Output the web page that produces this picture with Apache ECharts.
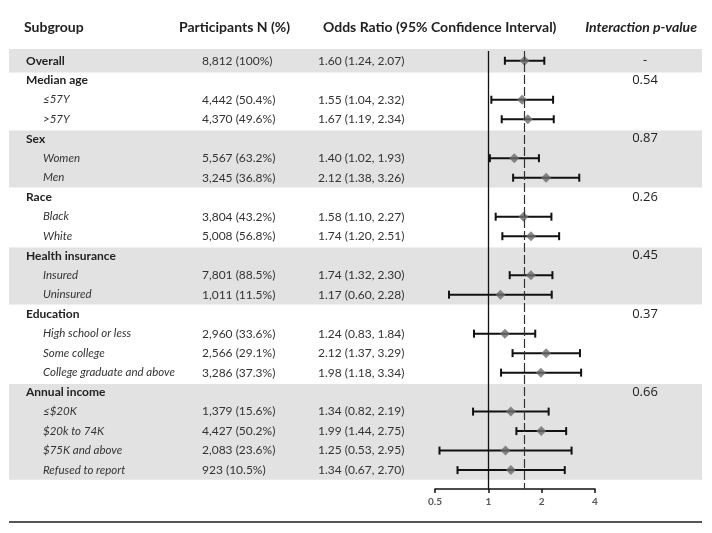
<!DOCTYPE html>
<html>
<head>
<meta charset="utf-8">
<script src="https://cdn.jsdelivr.net/npm/echarts@6/dist/echarts.min.js"></script>
<style>html,body{margin:0;padding:0;background:#fff;}#c{width:712px;height:533px;}</style>
</head>
<body>
<div id="c"></div>
<script>
// ---------------- data ----------------
const subgroups = ['Overall','Median age','≤57Y','>57Y','Sex','Women','Men','Race','Black','White',
  'Health insurance','Insured','Uninsured','Education','High school or less','Some college',
  'College graduate and above','Annual income','≤$20K','$20k to 74K','$75K and above','Refused to report'];
const isHeader = [1,1,0,0,1,0,0,1,0,0,1,0,0,1,0,0,0,1,0,0,0,0];
const participants = ['8,812 (100%)','','4,442 (50.4%)','4,370 (49.6%)','','5,567 (63.2%)','3,245 (36.8%)','',
  '3,804 (43.2%)','5,008 (56.8%)','','7,801 (88.5%)','1,011 (11.5%)','','2,960 (33.6%)','2,566 (29.1%)',
  '3,286 (37.3%)','','1,379 (15.6%)','4,427 (50.2%)','2,083 (23.6%)','923 (10.5%)'];
const oddsRatio = [1.60,null,1.55,1.67,null,1.40,2.12,null,1.58,1.74,null,1.74,1.17,null,1.24,2.12,1.98,null,1.34,1.99,1.25,1.34];
const ciLow     = [1.24,null,1.04,1.19,null,1.02,1.38,null,1.10,1.20,null,1.32,0.60,null,0.83,1.37,1.18,null,0.82,1.44,0.53,0.67];
const ciHigh    = [2.07,null,2.32,2.34,null,1.93,3.26,null,2.27,2.51,null,2.30,2.28,null,1.84,3.29,3.34,null,2.19,2.75,2.95,2.70];
const pValues   = ['-','0.54','','','0.87','','','0.26','','','0.45','','','0.37','','','','0.66','','','',''];
const shadedGroups = [[0,0],[4,6],[10,12],[17,21]]; // first row, last row
const xTicks = [0.5,1,2,4];
const columnHeaders = ['Subgroup','Participants N (%)','Odds Ratio (95% Confidence Interval)','Interaction p-value'];

// ---------------- build ----------------
const rows = subgroups.map((_, i) => i);
const orText = oddsRatio.map((v, i) => v == null ? '' :
  v.toFixed(2) + ' (' + ciLow[i].toFixed(2) + ', ' + ciHigh[i].toFixed(2) + ')');
const pointData = [], barData = [];
rows.forEach(i => { if (oddsRatio[i] != null) { pointData.push([oddsRatio[i], i]); barData.push([ciLow[i], ciHigh[i], i]); } });

const FONT = 'Lato';
const GRID_LEFT = 435, GRID_RIGHT = 117, YMIN = -0.5, YMAX = 21.97;
function textAxis(pos, margin, align, formatter, extra) {
  return {
    type: 'value', position: pos, inverse: true, min: YMIN, max: YMAX, offset: 0,
    axisLine: {show: false}, axisTick: {show: false}, splitLine: {show: false},
    axisLabel: Object.assign({show: true, customValues: rows, margin: margin, align: align,
      formatter: formatter, fontFamily: FONT, fontSize: 12, color: '#333'}, extra || {})
  };
}
const headStyle = {fontFamily: FONT, fontSize: 14, fontWeight: 'bold', color: '#222'};

const option = {
  animation: false,
  backgroundColor: '#fff',
  title: [
    {text: columnHeaders[0], left: 24, top: 20, padding: 0, textStyle: headStyle},
    {text: columnHeaders[1], left: 179, top: 20, padding: 0, textStyle: headStyle},
    {text: columnHeaders[2], left: 323, top: 20, padding: 0, textStyle: headStyle},
    {text: columnHeaders[3], right: 15, top: 20, padding: 0, textStyle: Object.assign({}, headStyle, {fontStyle: 'italic'})}
  ],
  grid: {left: GRID_LEFT, right: GRID_RIGHT, top: 51, bottom: 44, containLabel: false},
  xAxis: {
    type: 'log', logBase: 2, min: 0.5, max: 4,
    axisLine: {show: true, onZero: false, lineStyle: {color: '#111', width: 1.5}},
    axisTick: {show: true, inside: false, length: 4, lineStyle: {color: '#111', width: 1.5}},
    minorTick: {show: false}, splitLine: {show: false}, minorSplitLine: {show: false},
    axisLabel: {margin: 8, fontFamily: FONT, fontSize: 10, fontWeight: 'bold', color: '#555',
      formatter: v => { let b = xTicks[0]; xTicks.forEach(t => { if (Math.abs(t - v) < Math.abs(b - v)) b = t; }); return String(b); }}
  },
  yAxis: [
    {type: 'value', inverse: true, min: YMIN, max: YMAX, show: false},
    textAxis('left', GRID_LEFT - 26, 'left', v => isHeader[v] || v === 0 ? '{h|' + subgroups[v] + '}' : '{i|' + subgroups[v] + '}',
      {rich: {h: {fontFamily: FONT, fontSize: 12, fontWeight: 'bold', color: '#222'},
              i: {fontFamily: FONT, fontSize: 11.5, fontStyle: 'italic', color: '#333', padding: [0,0,0,17]}}}),
    textAxis('left', GRID_LEFT - 202, 'left', v => participants[v]),
    textAxis('left', GRID_LEFT - 318, 'left', v => orText[v]),
    textAxis('right', 50, 'center', v => pValues[v], {fontSize: 13, fontFamily: 'Open Sans', color: '#222'})
  ],
  series: [
    {
      type: 'custom', z: 0, silent: true, clip: false,
      data: shadedGroups.map(g => g[0] === g[1] ? [g[0] - 0.6, g[1] + 0.6] : [g[0] - 0.42, g[1] + 0.5]),
      encode: {y: [0, 1]},
      renderItem: (params, api) => {
        const y0 = api.coord([1, api.value(0)])[1];
        const y1 = api.coord([1, api.value(1)])[1];
        return {type: 'rect', shape: {x: 9, y: y0, width: 693, height: y1 - y0}, style: {fill: '#e2e2e2'}};
      }
    },
    {
      type: 'line', data: [], z: 2, silent: true,
      markLine: {
        symbol: 'none', silent: true, label: {show: false},
        data: [
          {xAxis: 1, lineStyle: {color: '#111', width: 1.3, type: 'solid'}},
          {xAxis: oddsRatio[0], lineStyle: {color: '#333', width: 1.2, type: [9, 3]}}
        ]
      }
    },
    {
      type: 'custom', z: 3, silent: true,
      data: barData, encode: {x: [0, 1], y: 2},
      renderItem: (params, api) => {
        const a = api.coord([api.value(0), api.value(2)]);
        const b = api.coord([api.value(1), api.value(2)]);
        const st = {stroke: '#111', lineWidth: 2};
        return {type: 'group', children: [
          {type: 'line', shape: {x1: a[0], y1: a[1], x2: b[0], y2: b[1]}, style: st},
          {type: 'line', shape: {x1: a[0], y1: a[1] - 4, x2: a[0], y2: a[1] + 4}, style: st},
          {type: 'line', shape: {x1: b[0], y1: b[1] - 4, x2: b[0], y2: b[1] + 4}, style: st}
        ]};
      }
    },
    {
      type: 'scatter', z: 4, silent: true, symbol: 'diamond', symbolSize: [10, 10],
      itemStyle: {color: '#6b6b6b'}, data: pointData
    }
  ],
  graphic: [
    {type: 'line', shape: {x1: 9, y1: 522, x2: 702, y2: 522}, style: {stroke: '#555', lineWidth: 2}, silent: true}
  ]
};
echarts.init(document.getElementById('c')).setOption(option);
</script>
</body>
</html>
